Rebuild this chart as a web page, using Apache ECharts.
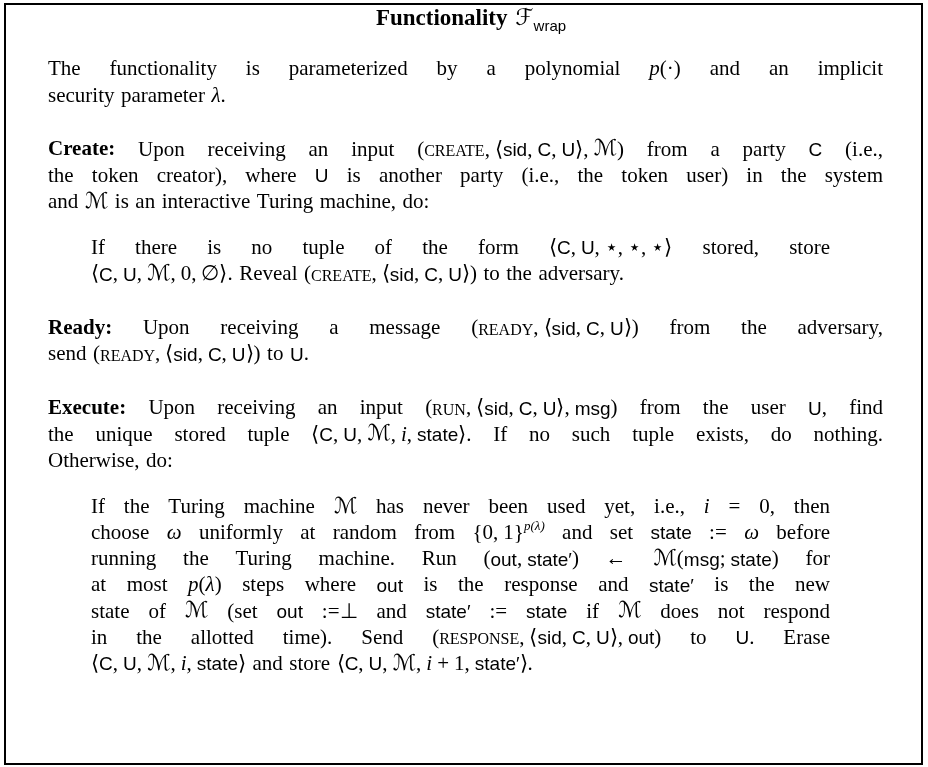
<!DOCTYPE html>
<html>
<head>
<meta charset="utf-8">
<script src="https://cdn.jsdelivr.net/npm/echarts@6/dist/echarts.min.js"></script>
<style>
html, body { margin: 0; padding: 0; background: #fff; }
#main { width: 928px; height: 767px; }
</style>
</head>
<body>
<div id="main"></div>
<script>
// text of the box, one string per printed line
// [x|...] marks a styled run, ~ is a thin non-stretching space
var titleLine = '[t|Functionality] [f|ℱ][w|wrap]';

var introLines = [
	'The functionality is parameterized by a polynomial [i|p](·) and an implicit',
	'security parameter [i|λ].'
];

var createLines = [
	'[b|Create:] Upon receiving an input ([c|CREATE],~⟨[s|sid],~[s|C],~[s|U]⟩,~[m|ℳ]) from a party [s|C] (i.e.,',
	'the token creator), where [s|U] is another party (i.e., the token user) in the system',
	'and [m|ℳ] is an interactive Turing machine, do:'
];

var createStep = [
	'If there is no tuple of the form ⟨[s|C],~[s|U],~⋆,~⋆,~⋆⟩ stored, store',
	'⟨[s|C],~[s|U],~[m|ℳ],~0,~∅⟩. Reveal ([c|CREATE],~⟨[s|sid],~[s|C],~[s|U]⟩) to the adversary.'
];

var readyLines = [
	'[b|Ready:] Upon receiving a message ([c|READY],~⟨[s|sid],~[s|C],~[s|U]⟩) from the adversary,',
	'send ([c|READY],~⟨[s|sid],~[s|C],~[s|U]⟩) to [s|U].'
];

var executeLines = [
	'[b|Execute:] Upon receiving an input ([c|RUN],~⟨[s|sid],~[s|C],~[s|U]⟩,~[s|msg]) from the user [s|U], find',
	'the unique stored tuple ⟨[s|C],~[s|U],~[m|ℳ],~[i|i],~[s|state]⟩. If no such tuple exists, do nothing.',
	'Otherwise, do:'
];

var executeStep = [
	'If the Turing machine [m|ℳ] has never been used yet, i.e., [i|i] = 0, then',
	'choose [i|ω] uniformly at random from {0,~1}[u|p(λ)] and set [s|state] := [i|ω] before',
	'running the Turing machine. Run ([s|out],~[s|state′]) ← [m|ℳ]([s|msg];~[s|state]) for',
	'at most [i|p]([i|λ]) steps where [s|out] is the response and [s|state′] is the new',
	'state of [m|ℳ] (set [s|out] :=⊥ and [s|state′] := [s|state] if [m|ℳ] does not respond',
	'in the allotted time). Send ([c|RESPONSE],~⟨[s|sid],~[s|C],~[s|U]⟩,~[s|out]) to [s|U]. Erase',
	'⟨[s|C],~[s|U],~[m|ℳ],~[i|i],~[s|state]⟩ and store ⟨[s|C],~[s|U],~[m|ℳ],~[i|i]~+~1,~[s|state′]⟩.'
];

var fonts = {
	r: '21px "Liberation Serif"',
	b: 'bold 21px "Liberation Serif"',
	i: 'italic 21px "Liberation Serif"',
	s: '19px "Liberation Sans"',
	c: '16px "Liberation Serif"',
	m: 'italic 22px "DejaVu Serif", "DejaVu Sans"',
	u: 'italic 13px "Liberation Serif"',
	t: 'bold 23px "Liberation Serif"',
	f: 'italic 23px "DejaVu Serif", "DejaVu Sans"',
	w: '15px "Liberation Sans"'
};
var shifts = { u: -10, w: 5 };
var mathGap = 5; // width of a ~ space inside formulas

var ctx = document.createElement('canvas').getContext('2d');
function measure(style, txt) {
	if (style === 'g') return mathGap;
	ctx.font = fonts[style];
	return ctx.measureText(txt).width;
}
function fontSize(style) {
	return parseFloat(fonts[style].match(/(\d+)px/)[1]);
}

// split a line into words; each word is a list of [style, text] runs
function parseLine(str) {
	var words = [[]];
	function push(st, txt) {
		txt.split('~').forEach(function(piece, k) {
			if (k > 0) words[words.length - 1].push(['g', '']);
			if (piece) words[words.length - 1].push([st, piece]);
		});
	}
	str.replace(/\[(\w)\|([^\]]*)\]|([^\[]+)/g, function(m, st, txt, plain) {
		if (st) {
			push(st, txt);
		} else {
			plain.split(' ').forEach(function(p, k) {
				if (k > 0) words.push([]);
				if (p) push('r', p);
			});
		}
	});
	return words.filter(function(w) { return w.length; });
}

function wordWidth(word) {
	var w = 0;
	word.forEach(function(run) { w += measure(run[0], run[1]); });
	return w;
}

var elements = [];

function placeWord(word, x, base) {
	word.forEach(function(run) {
		var st = run[0];
		if (st !== 'g') {
			var fs = fontSize(st);
			var b = base + (shifts[st] || 0);
			elements.push({
				type: 'text',
				x: x,
				y: b - 0.34 * fs,
				silent: true,
				style: {
					text: run[1],
					font: fonts[st],
					fill: '#000',
					align: 'left',
					verticalAlign: 'middle'
				}
			});
		}
		x += measure(st, run[1]);
	});
}

function placeLine(str, left, right, base, justify) {
	var words = parseLine(str);
	var widths = words.map(wordWidth);
	var total = widths.reduce(function(a, b) { return a + b; }, 0);
	var gap = 6.5;
	if (justify && words.length > 1) gap = (right - left - total) / (words.length - 1);
	var x = left;
	words.forEach(function(w, k) {
		placeWord(w, x, base);
		x += widths[k] + gap;
	});
}

// box frame
elements.push({
	type: 'rect',
	shape: { x: 5, y: 4, width: 917, height: 760 },
	style: { fill: 'none', stroke: '#000', lineWidth: 2 },
	silent: true
});

// title, centred
var titleWords = parseLine(titleLine);
var titleW = titleWords.map(wordWidth).reduce(function(a, b) { return a + b; }, 0) + 8;
var tx = 471 - titleW / 2;
titleWords.forEach(function(w) {
	placeWord(w, tx, 27);
	tx += wordWidth(w) + 8;
});

var paragraphs = [
	{ lines: introLines, indent: false },
	{ lines: createLines, indent: false },
	{ lines: createStep, indent: true },
	{ lines: readyLines, indent: false },
	{ lines: executeLines, indent: false },
	{ lines: executeStep, indent: true }
];

var lineStep = 26.2;
var base = 77;
paragraphs.forEach(function(p, pi) {
	if (pi > 0) base += p.indent ? 46 - lineStep : 54 - lineStep;
	var left = p.indent ? 91 : 48;
	var right = p.indent ? 830 : 883;
	p.lines.forEach(function(line, li) {
		placeLine(line, left, right, base, li < p.lines.length - 1);
		base += lineStep;
	});
});

var myChart = echarts.init(document.getElementById('main'));
var option = {
	backgroundColor: '#fff',
	animation: false,
	graphic: { elements: elements }
};
myChart.setOption(option);
</script>
</body>
</html>
